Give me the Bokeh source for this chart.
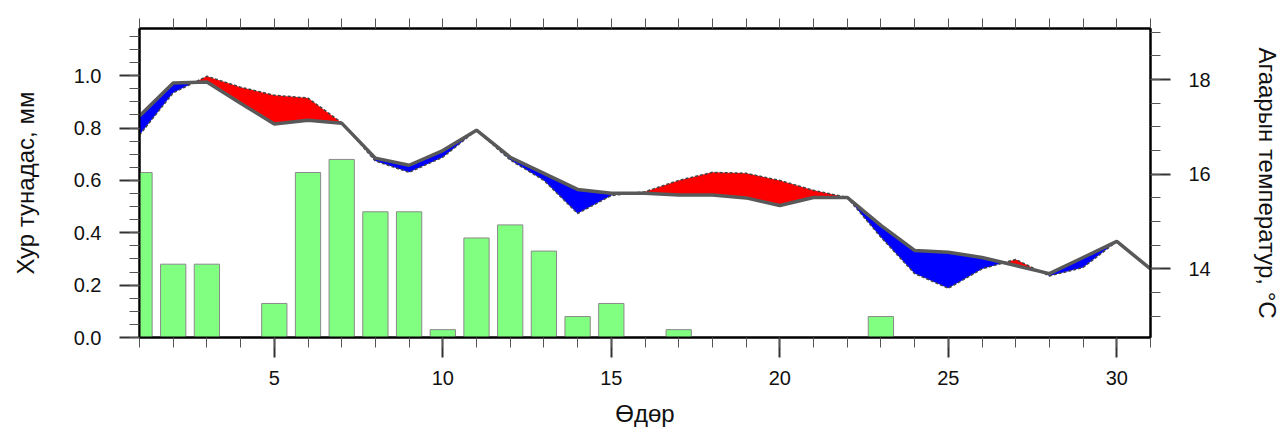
import numpy as np
from bokeh.plotting import figure
from bokeh.models import Range1d, LinearAxis, FixedTicker, PrintfTickFormatter
from bokeh.embed import file_html
from bokeh.resources import INLINE

# ---- data ----
days = list(range(1, 32))
precip = [0.63, 0.28, 0.28, 0.0, 0.13, 0.63, 0.68, 0.48, 0.48, 0.03,
          0.38, 0.43, 0.33, 0.08, 0.13, 0.0, 0.03, 0.0, 0.0, 0.0,
          0.0, 0.0, 0.08, 0.0, 0.0, 0.0, 0.0, 0.0, 0.0, 0.0, 0.0]
temp = [17.23, 17.93, 17.95, 17.50, 17.06, 17.14, 17.08, 16.34, 16.19, 16.50,
        16.93, 16.36, 16.02, 15.68, 15.60, 15.60, 15.56, 15.56, 15.50, 15.34,
        15.51, 15.51, 14.92, 14.39, 14.35, 14.24, 14.07, 13.90, 14.24, 14.58, 14.00]
temp_norm = [16.83, 17.72, 18.07, 17.84, 17.67, 17.61, 17.09, 16.28, 16.04, 16.36,
             16.93, 16.30, 15.87, 15.17, 15.55, 15.63, 15.87, 16.04, 16.02, 15.87,
             15.66, 15.51, 14.67, 13.90, 13.59, 14.00, 14.20, 13.85, 14.03, 14.58, 14.00]

x_ticks = [5, 10, 15, 20, 25, 30]
y_ticks = [0.0, 0.2, 0.4, 0.6, 0.8, 1.0]
t_ticks = [14, 16, 18]

FONT = "Liberation Sans"

# ---- fill geometry: insert crossing points between the two temperature curves ----
xs, ga, na = [], [], []
for i in range(len(days)):
    xs.append(days[i]); ga.append(temp[i]); na.append(temp_norm[i])
    if i < len(days) - 1:
        d0 = temp_norm[i] - temp[i]
        d1 = temp_norm[i + 1] - temp[i + 1]
        if d0 * d1 < 0:
            t = d0 / (d0 - d1)
            xc = days[i] + t * (days[i + 1] - days[i])
            yc = temp[i] + t * (temp[i + 1] - temp[i])
            xs.append(xc); ga.append(yc); na.append(yc)
xs = np.array(xs); ga = np.array(ga); na = np.array(na)

p = figure(width=1283, height=434, x_range=Range1d(1, 31), y_range=Range1d(0, 1.18),
           output_backend="svg", toolbar_location=None,
           min_border_left=139, min_border_right=132, min_border_top=28, min_border_bottom=97)
p.extra_y_ranges = {"temp": Range1d(12.55, 19.08)}
p.xgrid.visible = False
p.ygrid.visible = False
p.outline_line_color = "black"
p.outline_line_width = 2
p.background_fill_color = "white"
p.border_fill_color = "white"

# bars
p.vbar(x=days, top=precip, width=0.75, bottom=0, fill_color="#80ff80",
       line_color="#8a8a8a", line_width=1)

# fills
p.varea(x=xs, y1=ga, y2=np.maximum(na, ga), fill_color="#ff0000", y_range_name="temp")
p.varea(x=xs, y1=np.minimum(na, ga), y2=ga, fill_color="#0000ff", y_range_name="temp")

# lines
p.line(days, temp_norm, line_color="#444444", line_width=1.5, line_dash="3 2",
       y_range_name="temp")
p.line(days, temp, line_color="#595959", line_width=3.5, y_range_name="temp")

def style(ax, major_out=20, minor_out=10):
    ax.axis_line_width = 2
    ax.axis_line_color = "black"
    ax.major_tick_line_width = 2
    ax.major_tick_line_color = "#333333"
    ax.minor_tick_line_color = "#555555"
    ax.minor_tick_line_width = 1
    ax.major_tick_in = 0
    ax.minor_tick_in = 0
    ax.major_tick_out = major_out
    ax.minor_tick_out = minor_out
    ax.major_label_text_font = FONT
    ax.major_label_text_font_size = "20px"
    ax.major_label_text_color = "#111111"
    ax.axis_label_text_font = FONT
    ax.axis_label_text_font_size = "24px"
    ax.axis_label_text_font_style = "normal"
    ax.axis_label_text_color = "#111111"

# bottom axis
xa = p.xaxis[0]
xa.ticker = FixedTicker(ticks=x_ticks, minor_ticks=days)
xa.axis_label = "Өдөр"
style(xa)
xa.major_label_standoff = 13
xa.axis_label_standoff = 12

# left axis
ya = p.yaxis[0]
ya.ticker = FixedTicker(ticks=y_ticks, minor_ticks=[round(0.05 * k, 2) for k in range(0, 24)])
ya.formatter = PrintfTickFormatter(format="%.1f")
ya.axis_label = "Хур тунадас, мм"
style(ya)
ya.major_label_standoff = 18
ya.axis_label_standoff = 32

# right axis
ra = LinearAxis(y_range_name="temp", axis_label="Агаарын температур, °C",
                ticker=FixedTicker(ticks=t_ticks, minor_ticks=[12.5 + 0.5 * k for k in range(14)]))
style(ra)
ra.major_label_standoff = 18
ra.axis_label_standoff = 40
p.add_layout(ra, "right")

# top axis (ticks only, no labels)
ta = LinearAxis(ticker=FixedTicker(ticks=[], minor_ticks=days))
style(ta, major_out=10, minor_out=10)
ta.major_label_standoff = 0
p.add_layout(ta, "above")

open("out.html", "w").write(file_html(p, INLINE))
